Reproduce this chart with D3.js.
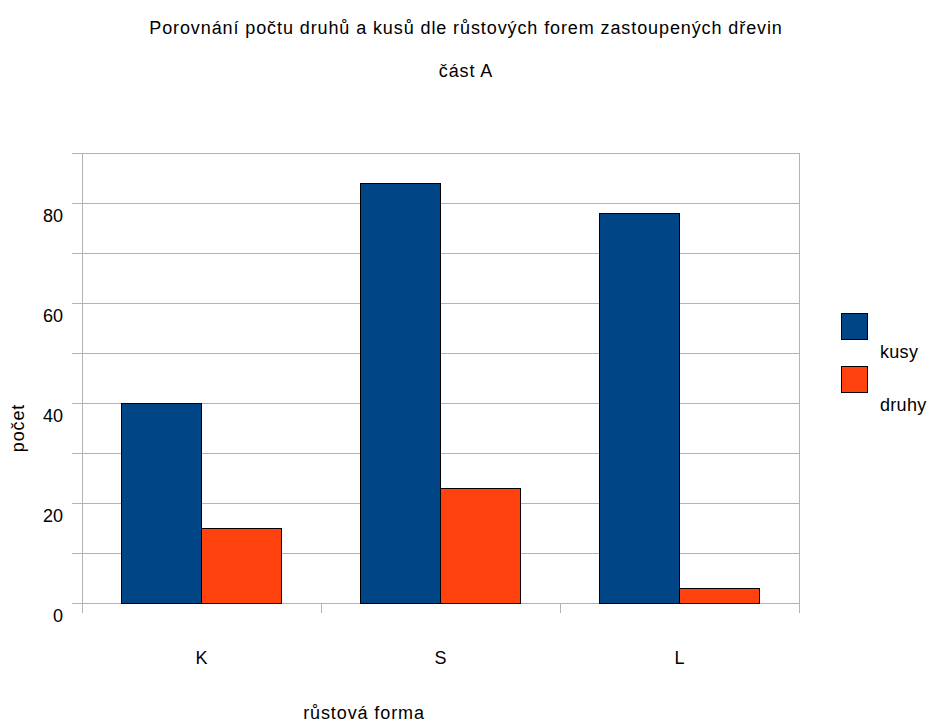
<!DOCTYPE html>
<html>
<head>
<meta charset="utf-8">
<script src="https://cdn.jsdelivr.net/npm/d3@7"></script>
<style>
  body { margin: 0; background: #fff; }
  text { font-family: "Liberation Sans", Arial, sans-serif; fill: #000; }
</style>
</head>
<body>
<svg id="chart" width="933" height="722"></svg>
<script>
// Growth forms and counts per form
const categories = ["K", "S", "L"];
const seriesNames = ["kusy", "druhy"];
const kusy = [40, 84, 78];
const druhy = [15, 23, 3];
const yTicks = [0, 20, 40, 60, 80];
const colors = ["#004586", "#ff420e"];

const svg = d3.select("#chart");
const m = { left: 82, right: 799, top: 153, bottom: 603 };
const fs = 18;
const ls = "0.9px";

const x = d3.scaleBand().domain(categories).range([m.left, m.right]).paddingInner(0).paddingOuter(0);
const xs = d3.scaleBand().domain(seriesNames).range([0, x.bandwidth()]).paddingInner(0).paddingOuter(0.5);
const y = d3.scaleLinear().domain([0, 90]).range([m.bottom, m.top]);

// Horizontal gridlines every 10 units
const grid = d3.range(0, 91, 10);
svg.append("g").selectAll("line").data(grid).join("line")
  .attr("x1", m.left - 10).attr("x2", m.right)
  .attr("y1", d => y(d)).attr("y2", d => y(d))
  .attr("stroke", "#b3b3b3").attr("stroke-width", 1)
  .attr("shape-rendering", "crispEdges");

// Y axis line and right frame
svg.append("line").attr("x1", m.left).attr("x2", m.left)
  .attr("y1", m.top).attr("y2", m.bottom + 10)
  .attr("stroke", "#b3b3b3").attr("shape-rendering", "crispEdges");
svg.append("line").attr("x1", m.right).attr("x2", m.right)
  .attr("y1", m.top).attr("y2", m.bottom + 10)
  .attr("stroke", "#b3b3b3").attr("shape-rendering", "crispEdges");

// Category separators below the baseline
svg.append("g").selectAll("line").data(categories.slice(1)).join("line")
  .attr("x1", d => x(d)).attr("x2", d => x(d))
  .attr("y1", m.bottom).attr("y2", m.bottom + 10)
  .attr("stroke", "#b3b3b3").attr("shape-rendering", "crispEdges");

// Y tick labels, set just below their gridlines
svg.append("g").selectAll("text").data(yTicks).join("text")
  .attr("x", 63).attr("y", d => y(d) + 13).attr("dy", "0.36em")
  .attr("text-anchor", "end").attr("font-size", fs)
  .text(d => d);

// Bars
const data = categories.map((c, i) => ({ c, vals: [kusy[i], druhy[i]] }));
const groups = svg.append("g").selectAll("g").data(data).join("g")
  .attr("transform", d => `translate(${x(d.c)},0)`);
groups.selectAll("rect").data(d => d.vals.map((v, j) => ({ v, s: seriesNames[j], j })))
  .join("rect")
  .attr("x", d => xs(d.s)).attr("width", xs.bandwidth())
  .attr("y", d => y(d.v)).attr("height", d => y(0) - y(d.v))
  .attr("fill", d => colors[d.j])
  .attr("stroke", "#000").attr("stroke-width", 1)
  .attr("shape-rendering", "crispEdges");

// X category labels
svg.append("g").selectAll("text").data(categories).join("text")
  .attr("x", d => x(d) + x.bandwidth() / 2).attr("y", 664)
  .attr("text-anchor", "middle").attr("font-size", fs)
  .text(d => d);

// Titles
svg.append("text").attr("x", 466).attr("y", 34).attr("text-anchor", "middle")
  .attr("font-size", fs).attr("letter-spacing", ls)
  .text("Porovnání počtu druhů a kusů dle růstových forem zastoupených dřevin");
svg.append("text").attr("x", 466).attr("y", 77).attr("text-anchor", "middle")
  .attr("font-size", fs).attr("letter-spacing", ls).text("část A");

// Axis titles
svg.append("text").attr("x", 364).attr("y", 719).attr("text-anchor", "middle")
  .attr("font-size", fs).attr("letter-spacing", ls).text("růstová forma");
svg.append("text").attr("transform", "translate(24,428) rotate(-90)")
  .attr("text-anchor", "middle").attr("font-size", fs).attr("letter-spacing", ls).text("počet");

// Legend
const leg = svg.append("g").selectAll("g").data(seriesNames).join("g")
  .attr("transform", (d, i) => `translate(841,${313 + i * 53})`);
leg.append("rect").attr("width", 26).attr("height", 26)
  .attr("fill", (d, i) => colors[i]).attr("stroke", "#000")
  .attr("shape-rendering", "crispEdges");
leg.append("text").attr("x", 39).attr("y", 45).attr("font-size", fs)
  .attr("letter-spacing", "0.3px").text(d => d);
</script>
</body>
</html>
